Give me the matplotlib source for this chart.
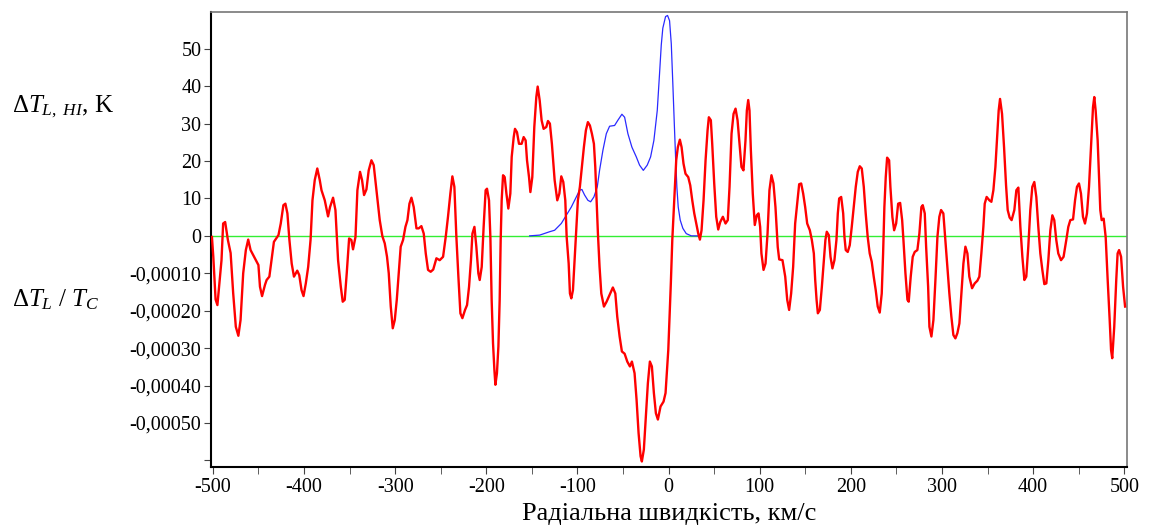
import numpy as np
import matplotlib
matplotlib.use("Agg")
from matplotlib import pyplot as plt
from matplotlib.ticker import FixedLocator, MultipleLocator, FuncFormatter

# red: dT_L / T_C (plotted in units of 1e-5), blue: dT_L,HI in K
red_v = [-501, -499.5, -497, -495, -492.5, -490.5, -488.7, -486.5, -483.5, -480.5,
         -477.7, -474.8, -472, -469.6, -466.7, -463.8, -461.2, -458.6, -453.9, -450,
         -448.3, -446, -442.8, -441, -438, -435.6, -433, -428, -425.5, -422.6,
         -420.4, -418.2, -416, -413.5, -411, -407.4, -405.2, -402.7, -400.5, -398,
         -395.4, -392.8, -390.7, -388.2, -385.4, -382.7, -380.8, -377.2, -373.6, -371.4,
         -368.1, -365.5, -362.6, -359.6, -357.5, -355.3, -353.1, -350.5, -348, -346.2,
         -343.5, -341.4, -338.5, -336.3, -334.1, -331.5, -329, -326, -323.5, -320.5,
         -316.9, -314, -311.4, -308.9, -307, -304.8, -302.6, -300.4, -298.2, -296,
         -293.9, -291.3, -288.7, -286.5, -284.3, -282.1, -279.6, -276.6, -274.1, -271.2,
         -268.6, -266.4, -263.9, -261, -258.2, -254.7, -251.1, -247.4, -244.5, -242,
         -239.4, -237.2, -235, -232.8, -230.6, -228.4, -226.2, -223.3, -221.1, -218.9,
         -216.8, -215.2, -213, -210.9, -208.7, -207.2, -205, -202.9, -200.7, -199.2,
         -197, -195.5, -194.1, -192.6, -191.1, -190, -188.3, -186.7, -185.3, -184.2,
         -183.1, -181.6, -179.8, -177.9, -175.8, -173.6, -172.1, -169.9, -168.5, -166.3,
         -164.1, -161.2, -159, -156.8, -155.3, -153.1, -151.6, -149.5, -147.3, -145.1,
         -143.6, -141.4, -139.3, -137.1, -134.1, -132.3, -130.2, -128, -125, -122.1,
         -119.8, -117.7, -115.5, -113.3, -111.8, -109.6, -108.2, -106.7, -104.9, -103.1,
         -101.2, -99.5, -97.3, -95.1, -92.9, -90.7, -88.5, -86.3, -84.1, -81.9,
         -80.4, -78.9, -77.5, -75.7, -73.8, -70.9, -68, -64.7, -61.1, -58.4,
         -56.3, -53.7, -51.2, -48.2, -45.3, -42.4, -40.2, -37.3, -35.1, -32.9,
         -30.7, -29.3, -27.1, -24.9, -22.7, -20.5, -18.3, -16.1, -13.9, -11.7,
         -8.8, -5.5, -3.3, -1.9, -0.3, 1.1, 2.5, 4.1, 5.5, 6.9,
         8.4, 10.2, 12.4, 14.3, 16.4, 18.6, 21.6, 23.8, 26, 28.2,
         30.4, 32.6, 34.4, 36.2, 38.4, 40.6, 42.8, 44.2, 46.4, 47.9,
         50.1, 52.3, 54.5, 56.7, 59.6, 62.5, 65, 66.9, 69.1, 71.3,
         73.5, 75.7, 77.9, 80, 82.2, 84.4, 85.9, 87.4, 88.8, 90.3,
         92.4, 94.6, 96.8, 98.7, 100.5, 101.9, 104.2, 106.4, 108.6, 110.7,
         112.9, 115.1, 117.3, 119.8, 121.4, 125, 128, 130.2, 132.3, 134.5,
         136.7, 138.9, 141.1, 143.3, 145.5, 147.7, 149.9, 152.1, 155, 157.2,
         159.4, 160.9, 162.4, 163.8, 166, 168.2, 170.4, 172.1, 173.6, 175.8,
         177.7, 179.8, 182, 184.2, 185.7, 187.2, 189.4, 191.6, 193, 194.4,
         196.6, 198.8, 201, 203.2, 205.4, 207.6, 209.8, 212, 214.2, 216.3,
         218.5, 220.7, 222.9, 225.1, 227.3, 229.5, 231.7, 233.9, 235.4, 236.8,
         238.3, 239.8, 242, 243.4, 245.6, 247.5, 249.7, 251.9, 254.1, 256.3,
         257.7, 259.9, 262.1, 263.5, 265.7, 267.9, 270.1, 273, 275.2, 277.4,
         278.9, 281.1, 282.6, 284.8, 286.2, 288.4, 290.6, 292.8, 295, 297.1,
         299, 301.5, 303.7, 305.9, 308.1, 310.3, 312.5, 314.7, 316.9, 319.1,
         321.3, 323.5, 325.7, 327.9, 330, 333, 335.9, 338.8, 341, 343.2,
         345.4, 346.9, 349, 352, 354.2, 356.4, 358.6, 360.7, 362.2, 363.7,
         365.9, 368.1, 370.3, 372.1, 374.2, 376.4, 379.4, 381.6, 383.8, 386,
         388.2, 390.4, 392.5, 394.7, 396.9, 399.1, 401.3, 403.5, 405.7, 407.9,
         410.1, 412.3, 414.5, 416.7, 418.9, 421.1, 423.2, 425.4, 427.6, 430.6,
         433.4, 436.4, 438.6, 440.8, 443.8, 446, 448.1, 450.3, 452.5, 454.7,
         456.9, 459.1, 461.3, 463.5, 465.7, 467.1, 468.6, 470.8, 472.4, 473.7,
         475.2, 477.4, 479.6, 481.8, 484, 485.5, 486.8, 489, 491.2, 492.7,
         494.3, 496.5, 498.7, 500.9]
red_t = [-0.3, -5.6, -17, -18.5, -11.8, -6.5, 3.3, 3.7, -1.1, -4.6,
         -15.3, -24.3, -26.7, -22.5, -10, -3.8, -1, -3.8, -6, -7.8,
         -13.6, -16.1, -13.1, -11.8, -10.9, -6.5, -1.6, 0.2, 3.3, 8.2,
         8.6, 6, -1.1, -7.4, -10.9, -9.3, -10.5, -14.5, -16.1, -12.7,
         -8.3, -1.1, 9.5, 14.9, 18, 14.9, 12.2, 9.5, 5.2, 7.7,
         10.2, 6.9, -6.5, -13.6, -17.6, -17.1, -10, -0.7, -1.1, -3.6,
         -0.3, 12.2, 17.1, 14.9, 10.9, 12.4, 17.5, 20.2, 18.9, 12.2,
         4.2, -0.1, -2, -5.6, -10, -18.9, -24.7, -22.5, -17.1, -10,
         -2.9, -1.1, 2.4, 4.2, 8.6, 10.2, 7.7, 2, 2, 2.6,
         0.6, -4.7, -9.1, -9.6, -9, -6, -6.5, -5.6, -0.3, 5.1,
         11.3, 15.9, 13.1, -0.3, -10.9, -20.7, -22, -19.8, -18.5, -13.6,
         -6.5, 0.6, 2.4, -2.9, -10, -11.8, -8.3, 2.4, 12.2, 12.6,
         9.5, -0.3, -17.1, -28.7, -35.8, -39.8, -36.7, -29.6, -17.1, -1.1,
         9.5, 16.2, 15.7, 11.3, 7.3, 11.3, 21.1, 26.4, 28.6, 27.7,
         24.6, 24.6, 26.4, 25.5, 20.2, 15.7, 11.7, 15.7, 29.1, 37.1,
         39.9, 36.2, 30.9, 28.6, 29.1, 30.7, 30, 24.6, 14.9, 9.5,
         11.3, 15.9, 14.4, 9.5, -0.3, -7.4, -15.4, -16.7, -14.5, -6.5,
         2.4, 9.5, 13.1, 18.4, 23.7, 28.2, 30.4, 29.5, 27.3, 24.6,
         18.4, 9.5, 0.6, -8.3, -15.4, -18.9, -17.6, -15.8, -13.8, -15.4,
         -21.6, -26.9, -30.9, -31.5, -33.6, -34.9, -33.6, -36.7, -43.8, -52.7,
         -58.9, -60.3, -57.1, -48.3, -39.4, -33.6, -34.9, -42, -47.4, -49.1,
         -45.6, -44.3, -42, -36.7, -30.5, -21.6, -12.7, -1.1, 6, 13.1,
         20.2, 23.7, 25.7, 23.7, 19.3, 16.6, 15.7, 13.5, 9.5, 6,
         3.3, 0.6, -1, 1.5, 9.5, 20.2, 28.2, 31.7, 30.9, 24.6,
         14, 5.1, 1.7, 3.7, 5.1, 3.3, 4.2, 13.1, 27.3, 32.6,
         34, 30.9, 24.6, 18.4, 17.5, 25.5, 33.5, 36.3, 33.5, 22.9,
         11.3, 2.9, 5.5, 6, 2.4, -4.7, -9.1, -7.4, 0.6, 12.2,
         16.2, 14, 7.7, -3, -6.3, -6.5, -10.9, -17.1, -19.8, -15.4,
         -8.3, 3.3, 8.6, 13.8, 14, 11.3, 7.7, 3.3, 1.5, -1.1,
         -4.7, -11.8, -17.1, -20.7, -19.8, -13.6, -6.5, -1.1, 1.1, 0.2,
         -5.6, -8.7, -6.5, -1.1, 6, 10, 10.4, 6, -0.3, -3.8,
         -4.3, -2.5, 2.4, 7.7, 13.1, 17.1, 18.6, 18, 13.1, 6,
         -0.3, -4.7, -6.9, -10.9, -14.5, -18.9, -20.5, -15.4, -4.7, 7.7,
         15.7, 20.9, 20.2, 13.1, 5, 1.5, 3.3, 8.6, 8.8, 4.2,
         -1.1, -10, -17.1, -17.6, -10.9, -5.6, -4.3, -3.8, 0.6, 7.7,
         8.2, 6, -2.9, -13.6, -24.3, -26.9, -22.5, -11.8, -0.3, 5.1,
         6.9, 6, -1.1, -8.3, -15.4, -21.6, -26.5, -27.4, -26, -23.4,
         -15.4, -7.4, -2.9, -4.7, -10.9, -14, -12.7, -12, -10.9, -4.7,
         2.4, 8.6, 10.4, 9.5, 9.1, 12.2, 18.4, 27.3, 33.5, 36.6,
         32.6, 23.7, 13.5, 6.9, 4.9, 4.2, 6.9, 12.2, 12.9, 2.4,
         -5.6, -11.8, -10.9, -2.9, 6.9, 13.1, 14.4, 10.4, 2.4, -4.7,
         -9.1, -12.9, -12.7, -6.5, 1.5, 5.5, 4.2, -1.1, -4.7, -6.5,
         -5.6, -1.1, 2.4, 4.2, 4.4, 9.5, 13.1, 14, 11.3, 5.1,
         3.3, 6, 13.1, 23.7, 34.4, 37.1, 33.5, 25.5, 14.9, 6.9,
         4.2, 4.6, -0.3, -11.8, -22.5, -30.5, -32.7, -24.3, -11.8, -4.7,
         -3.8, -5.6, -13.6, -18.9]

blue_v = [-152.4, -141.4, -130.5, -125, -117.7, -112.2, -106.7, -101.2, -97.6, -95.1,
          -92.1, -88.5, -85.5, -81.9, -78.2, -75.7, -72, -68.3, -64.7, -59.2,
          -55.6, -51.2, -48.2, -44.6, -40.2, -35.4, -31.8, -27.7, -23.4, -19.7,
          -16.1, -12.4, -9.9, -8, -6.3, -3.3, -1.1, 1.1, 3, 4.7,
          6.3, 7.7, 9.1, 10.6, 12.8, 15.7, 19.4, 24.9, 32]
blue_t = [0, 0.2, 1.1, 1.5, 3.3, 5.5, 7.7, 10.4, 12.2, 12.4,
          10.9, 9.5, 9.1, 10.4, 13.1, 17.5, 22.9, 27.3, 29.3, 29.5,
          30.9, 32.5, 31.7, 27.3, 23.7, 21.1, 18.9, 17.5, 18.9, 21.1,
          25.5, 33.5, 43.3, 51, 55.5, 58.6, 58.9, 57.5, 51.3, 40.6,
          30, 21.1, 13.1, 7.7, 4.2, 2, 0.6, 0, 0]

x_ticks = list(range(-500, 501, 100))
y_ticks = list(range(-60, 51, 10))

plt.rcParams['font.family'] = ['Liberation Serif', 'DejaVu Serif']
plt.rcParams['mathtext.fontset'] = 'custom'
plt.rcParams['mathtext.rm'] = 'Liberation Serif'
plt.rcParams['mathtext.it'] = 'Liberation Serif:italic'
plt.rcParams['axes.unicode_minus'] = False

fig = plt.figure(figsize=(11.5, 5.26), dpi=100)
ax = fig.add_axes([0.1835, 0.112, 0.7965, 0.865])

ax.axhline(0, color='#33ee33', lw=1.0, zorder=1)
ax.plot(blue_v, blue_t, color='#2a2aff', lw=0.9, zorder=2)
ax.plot(red_v, red_t, color='#ff0000', lw=1.7, zorder=3)

ax.set_xlim(-502, 503)
ax.set_ylim(-61.8, 59.8)

ax.xaxis.set_major_locator(FixedLocator(x_ticks))
ax.xaxis.set_minor_locator(MultipleLocator(50))
ax.yaxis.set_major_locator(FixedLocator(y_ticks))


def ylab(v, pos):
    if v > 0:
        return '%d' % v
    if v == 0:
        return '0'
    if v <= -60:
        return ''
    return ('%.5f' % (v * 1e-5)).replace('.', ',')


ax.yaxis.set_major_formatter(FuncFormatter(ylab))
ax.tick_params(axis='both', which='both', direction='out', labelsize=14.5,
               color='#444444')
ax.tick_params(axis='both', which='major', length=5)
ax.tick_params(axis='x', which='minor', length=5)
ax.tick_params(axis='x', pad=3)
ax.tick_params(axis='y', pad=2)

for s in ['left', 'bottom']:
    ax.spines[s].set_color('black')
    ax.spines[s].set_linewidth(1.5)
for s in ['top', 'right']:
    ax.spines[s].set_color('#777777')
    ax.spines[s].set_linewidth(1.2)

ax.set_xlabel('Радіальна швидкість, км/с', fontsize=19, labelpad=4)

fig.text(0.01, 1 - 107 / 526, r'$\Delta T_{L,\ HI}$, K', fontsize=18,
         ha='left', va='center')
fig.text(0.01, 1 - 300 / 526, r'$\Delta T_L\ /\ T_C$', fontsize=18,
         ha='left', va='center')

fig.savefig('out.png', dpi=100)
